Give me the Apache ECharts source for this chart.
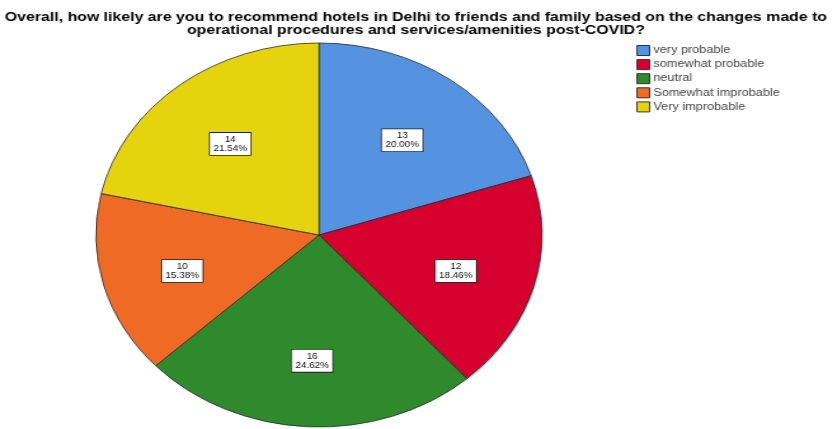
<!DOCTYPE html>
<html><head><meta charset="utf-8">
<script src="https://cdn.jsdelivr.net/npm/echarts@6/dist/echarts.min.js"></script>
<style>
html,body{margin:0;padding:0;background:#fff;overflow:hidden;}
#pie{position:absolute;left:0;top:0;width:832px;height:429px;transform:scaleX(1.162);transform-origin:319px 0;}
#main{position:absolute;left:0;top:0;width:655px;height:429px;transform:scaleX(1.27);transform-origin:0 0;}
</style></head><body>
<div id="pie"></div><div id="main"></div>
<script>
const categories = ['very probable','somewhat probable','neutral','Somewhat improbable','Very improbable'];
const counts = [13, 12, 16, 10, 14];
const colors = ['#5592e0', '#d5002d', '#2e8a2b', '#ef6a25', '#e5d30e'];
const titleLines = [
  'Overall, how likely are you to recommend hotels in Delhi to friends and family based on the changes made to',
  'operational procedures and services/amenities post-COVID?'
];

const data = categories.map((c, i) => ({ name: c, value: counts[i], itemStyle: { color: colors[i] } }));
const FONT = 'Liberation Sans, Arial, sans-serif';

const pie = echarts.init(document.getElementById('pie'), null, { renderer: 'canvas' });
pie.setOption({
  animation: false,
  series: [
    {
      type: 'pie', center: [319, 235], radius: 192, startAngle: 90, clockwise: true,
      silent: true,
      itemStyle: { borderColor: '#2a2a2a', borderWidth: 0.8 },
      label: { show: false }, labelLine: { show: false },
      data: data
    },
    {
      type: 'pie', center: [319, 239], radius: 238, startAngle: 90, clockwise: true,
      silent: true, percentPrecision: 2,
      itemStyle: { color: 'rgba(0,0,0,0)', borderWidth: 0 },
      label: {
        show: true, position: 'inside',
        formatter: p => p.value + '\n' + p.percent.toFixed(2) + '%',
        fontFamily: FONT, fontSize: 8.5, lineHeight: 9,
        color: '#111', backgroundColor: '#fff', borderColor: '#222', borderWidth: 0.8,
        padding: [2, 3, 2, 3]
      },
      labelLine: { show: false },
      data: categories.map((c, i) => ({ name: c, value: counts[i] }))
    }
  ]
});

const main = echarts.init(document.getElementById('main'), null, { renderer: 'canvas' });
main.setOption({
  animation: false,
  title: {
    text: titleLines.join('\n'), left: 'center', top: 6,
    textStyle: { fontFamily: FONT, fontSize: 12.5, fontWeight: 'bold', color: '#000', lineHeight: 13 }
  },
  legend: {
    orient: 'vertical', left: 501, top: 45, icon: 'rect', padding: 0,
    itemWidth: 10, itemHeight: 10, itemGap: 3.1,
    itemStyle: { borderColor: '#333', borderWidth: 1 },
    textStyle: { fontFamily: FONT, fontSize: 10, lineHeight: 10, color: '#444', padding: [0, 0, 0, -2] },
    data: categories
  },
  series: [{
    type: 'pie', center: [-100, -100], radius: 0, silent: true,
    label: { show: false }, data: data
  }]
});
</script>
</body></html>
